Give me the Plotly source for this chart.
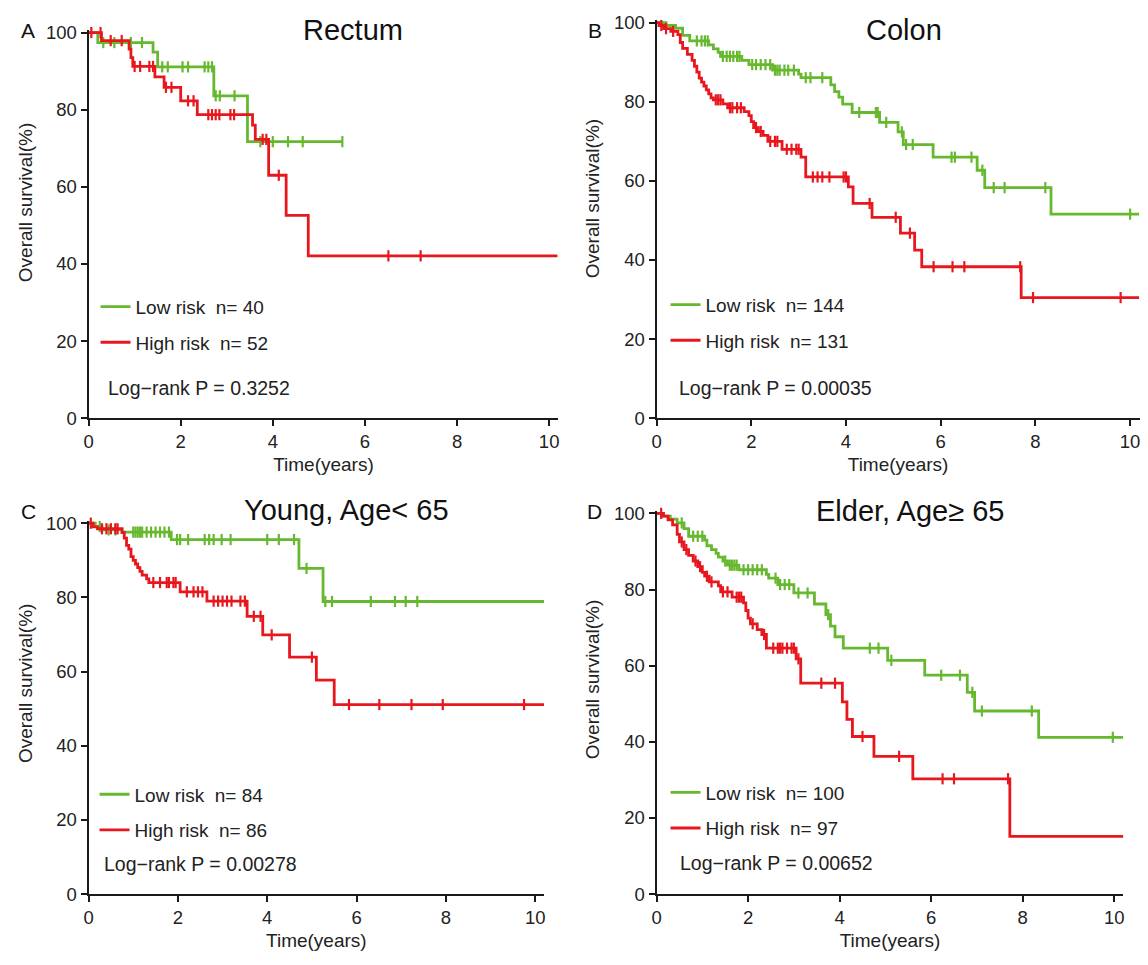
import plotly.graph_objects as go

W, H = 1148, 965
GREEN = "#66B82E"
RED = "#E8161D"
FONT = "Liberation Sans, Arial, sans-serif"

# ---------------- data ----------------
panel_titles = ["Rectum", "Colon", "Young, Age< 65", "Elder, Age\u2265 65"]
panel_letters = ["A", "B", "C", "D"]
low_n = [40, 144, 84, 100]
high_n = [52, 131, 86, 97]
pvalues = ["0.3252", "0.00035", "0.00278", "0.00652"]
x_ticks = [0, 2, 4, 6, 8, 10]
y_ticks = [0, 20, 40, 60, 80, 100]

# Panel A: Rectum
A_low_t = [0, 0.2, 1.4, 1.5, 2.72, 3.45, 5.51]
A_low_s = [100, 97.4, 94.9, 91.1, 83.6, 71.7, 71.7]
A_low_c = [0.32, 0.56, 0.92, 1.16, 1.6, 1.72, 2.04, 2.16, 2.52, 2.6, 2.68, 2.76, 2.85, 3.17,
           3.73, 4.0, 4.33, 4.65, 5.51]
A_high_t = [0, 0.28, 0.88, 0.92, 0.96, 1.44, 1.64, 2.0, 2.36, 3.56, 3.62, 3.91, 4.29, 4.77, 10.18]
A_high_s = [100, 97.9, 95.7, 93.5, 91.2, 88.5, 85.8, 82.3, 78.7, 76.0, 72.3, 63.0, 52.6, 42.1, 42.1]
A_high_c = [0.06, 0.26, 0.48, 0.72, 1.0, 1.12, 1.32, 1.4, 1.68, 1.8, 2.16, 2.28, 2.6, 2.68, 2.76,
            2.84, 3.08, 3.16, 3.78, 3.86, 4.13, 6.51, 7.21]

# Panel B: Colon
B_low_t = [0, 0.2, 0.4, 0.55, 0.7, 1.1, 1.2, 1.3, 1.35, 1.8, 1.95, 2.45, 3.0, 3.05, 3.68, 3.76,
           3.85, 3.93, 4.13, 4.71, 5.1, 5.21, 5.84, 6.77, 6.93, 8.33, 10.19]
B_low_s = [100, 99.3, 98.6, 96.8, 95.4, 94.4, 93.4, 92.5, 91.5, 90.5, 89.4, 88.0, 87.0, 86.1, 84.3,
           82.6, 81.2, 79.4, 77.3, 74.8, 72.4, 69.2, 66.0, 62.7, 58.3, 51.6, 51.6]
B_low_c = [0.85, 0.95, 1.02, 1.08, 1.4, 1.48, 1.55, 1.62, 1.7, 1.75, 2.02, 2.1, 2.2, 2.3, 2.4, 2.5,
           2.55, 2.6, 2.7, 2.78, 2.9, 3.15, 3.25, 3.5, 4.28, 4.63, 4.67, 4.85, 5.18, 5.27, 5.41,
           6.23, 6.3, 6.65, 6.88, 7.12, 7.35, 8.21, 10.0]
B_high_t = [0, 0.05, 0.15, 0.3, 0.45, 0.5, 0.55, 0.65, 0.75, 0.8, 0.85, 0.9, 0.95, 1.0, 1.05, 1.1,
            1.15, 1.2, 1.4, 1.5, 1.85, 1.95, 2.0, 2.05, 2.15, 2.25, 2.35, 2.65, 3.05, 3.15, 4.05,
            4.15, 4.55, 5.15, 5.45, 5.6, 7.7, 10.19]
B_high_s = [100, 99.3, 98.5, 97.8, 97.0, 95.0, 93.5, 92.0, 90.5, 89.0, 87.5, 86.0, 85.0, 84.0, 83.0,
            82.0, 81.0, 80.5, 79.5, 78.5, 77.5, 76.5, 75.0, 73.5, 72.5, 71.5, 70.0, 68.0, 66.0, 61.0,
            58.5, 54.3, 50.8, 46.8, 42.5, 38.3, 30.5, 30.5]
B_high_c = [0.1, 0.2, 0.35, 1.25, 1.3, 1.35, 1.55, 1.6, 1.7, 1.78, 2.1, 2.2, 2.4, 2.5, 2.55, 2.75,
            2.85, 2.95, 3.0, 3.3, 3.4, 3.5, 3.65, 3.95, 4.0, 4.5, 5.05, 5.35, 5.85, 6.25, 6.5, 7.68,
            7.95, 9.8]

# Panel C: Young
C_low_t = [0, 0.15, 0.3, 0.75, 1.85, 4.71, 5.25, 10.2]
C_low_s = [100, 99.1, 98.2, 97.6, 95.6, 87.8, 78.9, 78.9]
C_low_c = [0.25, 0.45, 0.6, 1.0, 1.05, 1.1, 1.15, 1.2, 1.3, 1.4, 1.5, 1.6, 1.7, 1.8, 1.98, 2.05,
           2.23, 2.6, 2.7, 2.8, 2.98, 3.18, 4.0, 4.26, 4.6, 4.88, 5.3, 5.45, 6.32, 6.86, 7.1, 7.36]
C_high_t = [0, 0.1, 0.2, 0.75, 0.8, 0.85, 0.9, 0.95, 1.0, 1.05, 1.1, 1.15, 1.2, 1.3, 1.35, 2.05,
            2.65, 3.55, 3.9, 4.5, 5.1, 5.5, 10.2]
C_high_s = [100, 99, 98.5, 97.5, 96, 94, 93, 91, 90, 89, 88, 87, 86, 85, 84, 81.5, 79, 74.9, 69.9,
            63.9, 57.7, 51.1, 51.1]
C_high_c = [0.05, 0.3, 0.4, 0.5, 0.6, 0.65, 1.45, 1.6, 1.75, 1.8, 1.9, 1.95, 2.2, 2.35, 2.45, 2.55,
            2.8, 2.9, 3.0, 3.1, 3.2, 3.4, 3.5, 3.7, 3.85, 4.1, 5.0, 5.83, 6.51, 7.23, 7.93, 9.75]

# Panel D: Elder
D_low_t = [0, 0.15, 0.3, 0.45, 0.6, 0.7, 1.05, 1.1, 1.2, 1.3, 1.35, 1.45, 1.55, 1.8, 2.4, 2.45,
           2.65, 3.0, 3.45, 3.7, 3.8, 3.9, 4.08, 5.05, 5.86, 6.79, 6.95, 8.35, 10.2]
D_low_s = [100, 99.3, 98.5, 97.5, 96, 94, 93, 91.5, 90.5, 89.5, 88.5, 87.5, 86.4, 85.2, 84, 83,
           81.3, 79.1, 76.2, 73.4, 70.4, 67.6, 64.6, 61.4, 57.5, 53.0, 48.1, 41.2, 41.2]
D_low_c = [0.55, 0.8, 0.9, 1.0, 1.5, 1.6, 1.65, 1.7, 1.75, 1.9, 2.0, 2.1, 2.2, 2.3, 2.6, 2.7, 2.8,
           2.9, 3.1, 3.3, 3.75, 4.66, 4.85, 5.13, 6.22, 6.63, 6.9, 7.11, 8.2, 9.97]
D_high_t = [0, 0.15, 0.25, 0.35, 0.45, 0.5, 0.6, 0.7, 0.8, 0.9, 1.0, 1.05, 1.15, 1.35, 1.4, 1.65,
            1.9, 1.95, 2.0, 2.05, 2.2, 2.3, 2.4, 3.05, 3.15, 4.06, 4.16, 4.28, 4.75, 5.6, 7.72, 10.2]
D_high_s = [100, 99.3, 98.3, 97, 94.5, 92.5, 90.5, 89, 87.5, 86, 84.5, 83.5, 82, 81, 79.4, 78,
            76.5, 74.5, 72.5, 71, 69.5, 68.2, 64.6, 61.8, 55.4, 50.5, 45.9, 41.4, 36.2, 30.3, 15.2,
            15.2]
D_high_c = [0.1, 0.55, 0.65, 0.85, 0.95, 1.1, 1.2, 1.45, 1.55, 1.75, 1.8, 1.85, 2.1, 2.35, 2.55,
            2.65, 2.7, 2.75, 2.85, 2.95, 3.0, 3.1, 3.6, 3.9, 4.5, 5.3, 6.25, 6.5, 7.68]

curves = [
    (A_low_t, A_low_s, A_low_c, A_high_t, A_high_s, A_high_c),
    (B_low_t, B_low_s, B_low_c, B_high_t, B_high_s, B_high_c),
    (C_low_t, C_low_s, C_low_c, C_high_t, C_high_s, C_high_c),
    (D_low_t, D_low_s, D_low_c, D_high_t, D_high_s, D_high_c),
]

# ---------------- layout geometry (pixels) ----------------
# (x pixel at t=0, x pixel at t=10, y pixel at 0%, y pixel at 100%)
geom = [(84, 547, 418, 25), (655, 1131, 418, 15), (84, 533, 903, 525), (655, 1115, 903, 515)]
XMAX = 10.2
YMAX = 100.6
title_pos = [(350, 22), (904, 22), (343, 512), (910, 513)]
letter_pos = [(23, 23), (593, 23), (24, 513), (593, 513)]
legend_pos = [(91, 300), (664, 298), (90, 797), (664, 795)]  # (left px, first item center px)
logrank_pos = [(102, 387), (676, 387), (98, 872), (677, 871)]
ytitle_pos = [(20, 198), (590, 194), (20, 688), (590, 684)]


def step_at(ts, ss, t):
    v = ss[0]
    for ti, si in zip(ts, ss):
        if ti <= t:
            v = si
    return v


def px(x):
    return x / W


def py(y):
    return 1 - y / H


fig = go.Figure()
layout = dict(
    width=W, height=H, margin=dict(l=0, r=0, t=0, b=0),
    paper_bgcolor="white", plot_bgcolor="white",
    font=dict(family=FONT, color="#222222"),
    annotations=[], hovermode=False,
)

for i in range(4):
    x0p, x10p, y0p, y100p = geom[i]
    sx = (x10p - x0p) / 10.0
    sy = (y0p - y100p) / 100.0
    xr = x0p + XMAX * sx
    yt = y0p - YMAX * sy
    xa = "x" if i == 0 else f"x{i+1}"
    ya = "y" if i == 0 else f"y{i+1}"
    xkey = "xaxis" if i == 0 else f"xaxis{i+1}"
    ykey = "yaxis" if i == 0 else f"yaxis{i+1}"
    lkey = "legend" if i == 0 else f"legend{i+1}"

    lt, ls, lc, ht, hs, hc = curves[i]
    for (t, s, c, col, name, grp) in [
        (lt, ls, lc, GREEN, f"Low risk\u00a0\u00a0n= {low_n[i]}", "low"),
        (ht, hs, hc, RED, f"High risk\u00a0\u00a0n= {high_n[i]}", "high"),
    ]:
        fig.add_trace(go.Scatter(
            x=t, y=s, mode="lines", line=dict(color=col, width=2.8, shape="hv"),
            name=name, legend=lkey, legendgroup=f"{grp}{i}", showlegend=True,
            xaxis=xa, yaxis=ya,
        ))
        fig.add_trace(go.Scatter(
            x=c, y=[step_at(t, s, ci) for ci in c], mode="markers",
            marker=dict(symbol="line-ns-open", size=8, color=col, line=dict(color=col, width=2.2)),
            showlegend=False, xaxis=xa, yaxis=ya, cliponaxis=False,
        ))

    layout[xkey] = dict(
        domain=[px(x0p), px(xr)], anchor=ya, range=[0, XMAX],
        tickvals=x_ticks, ticktext=[str(v) for v in x_ticks],
        ticks="outside", ticklen=6, tickwidth=2, tickcolor="#1a1a1a",
        showline=True, linewidth=2, linecolor="#1a1a1a",
        showgrid=False, zeroline=False,
        tickfont=dict(size=18.5, color="#222222", family=FONT),
        title=dict(text="Time(years)", font=dict(size=19, family=FONT, color="#222222"), standoff=6),
    )
    layout[ykey] = dict(
        domain=[py(y0p), py(yt)], anchor=xa, range=[0, YMAX],
        tickvals=y_ticks, ticktext=[str(v) for v in y_ticks],
        ticks="outside", ticklen=6, tickwidth=2, tickcolor="#1a1a1a",
        showline=True, linewidth=2, linecolor="#1a1a1a",
        showgrid=False, zeroline=False,
        tickfont=dict(size=18.5, color="#222222", family=FONT),
    )
    lx, ly = legend_pos[i]
    layout[lkey] = dict(
        x=px(lx), y=py(ly - 15), xanchor="left", yanchor="top",
        bgcolor="rgba(0,0,0,0)", borderwidth=0,
        font=dict(size=19, family=FONT, color="#222222"),
        tracegroupgap=8, itemwidth=30, traceorder="grouped",
    )
    tx, ty = title_pos[i]
    layout["annotations"].append(dict(
        x=px(tx), y=py(ty), xref="paper", yref="paper", text=panel_titles[i],
        showarrow=False, xanchor="center", yanchor="middle",
        font=dict(size=29, family=FONT, color="#111111"),
    ))
    lx2, ly2 = letter_pos[i]
    layout["annotations"].append(dict(
        x=px(lx2), y=py(ly2), xref="paper", yref="paper", text=panel_letters[i],
        showarrow=False, xanchor="center", yanchor="middle",
        font=dict(size=21, family=FONT, color="#111111"),
    ))
    gx, gy = logrank_pos[i]
    layout["annotations"].append(dict(
        x=px(gx), y=py(gy), xref="paper", yref="paper",
        text=f"Log\u2212rank P = {pvalues[i]}",
        showarrow=False, xanchor="left", yanchor="middle",
        font=dict(size=19.5, family=FONT, color="#222222"),
    ))
    yx, yy = ytitle_pos[i]
    layout["annotations"].append(dict(
        x=px(yx), y=py(yy), xref="paper", yref="paper",
        text="Overall survival(%)", textangle=-90,
        showarrow=False, xanchor="center", yanchor="middle",
        font=dict(size=19, family=FONT, color="#222222"),
    ))

fig.update_layout(**layout)
fig.write_html("out.html")
